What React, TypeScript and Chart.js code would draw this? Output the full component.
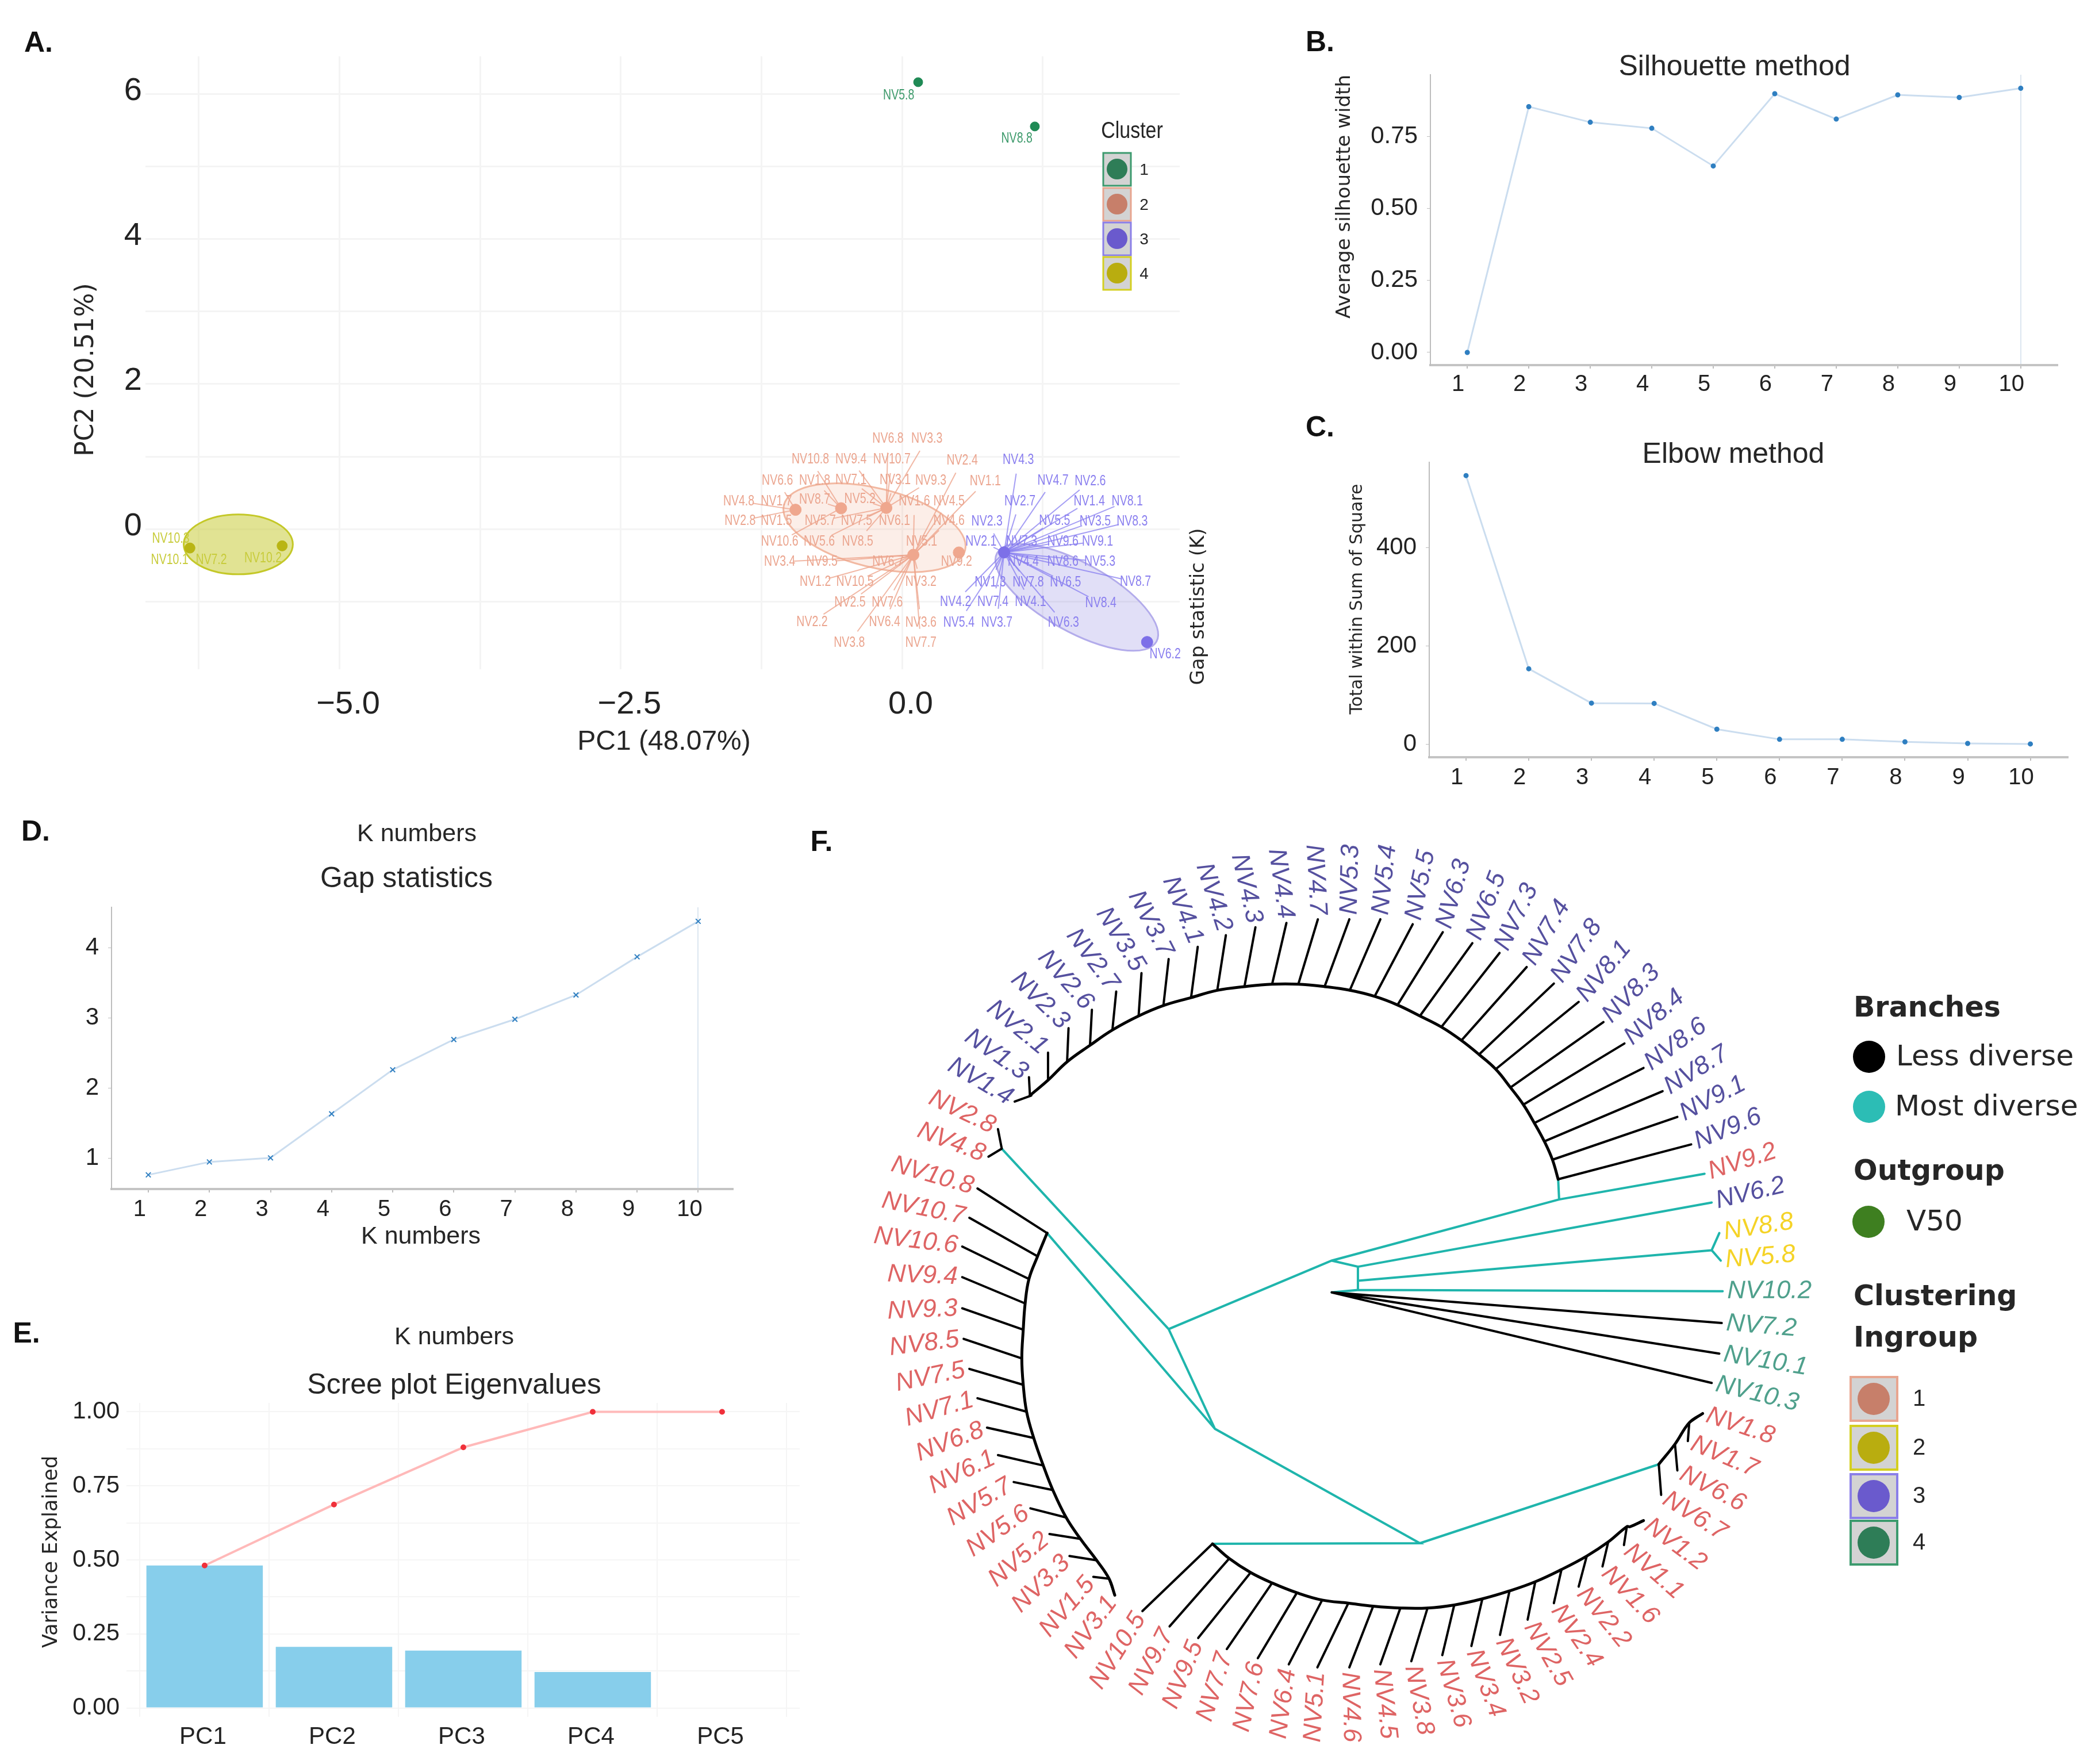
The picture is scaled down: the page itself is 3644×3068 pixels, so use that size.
import React, { useEffect, useRef } from "react";
import { Chart, registerables } from "chart.js";

Chart.register(...registerables);

const SANS = '"Liberation Sans", Arial, sans-serif';
const WIDE = '"DejaVu Sans", sans-serif';

// ---------- B / C / D values ----------
const kNumbers = [1, 2, 3, 4, 5, 6, 7, 8, 9, 10];
const silhouetteWidth = [0, 0.854, 0.8, 0.779, 0.648, 0.899, 0.811, 0.895, 0.886, 0.918];
const elbowWss = [546.5, 153.8, 84, 83.4, 31, 10.4, 10.4, 5.2, 2, 1];
const gapStat = [0.766, 0.95, 1.008, 1.636, 2.264, 2.695, 2.984, 3.33, 3.874, 4.38];

// ---------- E values ----------
const pcNames = ["PC1", "PC2", "PC3", "PC4", "PC5"];
const varianceExplained = [0.481, 0.2065, 0.1937, 0.1215, 0];
const cumulativeVariance = [0.481, 0.687, 0.88, 1, 1];

// ---------- A values (PC1, PC2) ----------
const clusterGreen = [[0.143, 6.16], [1.18, 5.55]];
const clusterPink = [[-0.947, 0.267], [-0.542, 0.288], [-0.14, 0.293], [0.1, -0.354], [0.505, -0.322]];
const clusterBlue = [[0.907, -0.32], [2.178, -1.556]];
const clusterYellow = [[-6.33, -0.26], [-5.51, -0.23]];
// centre x, centre y, semi axes in PC1 units, tilt in degrees
const ellipseYellow = [-5.9, -0.21, 0.485, 0.266, 0];
const ellipsePink = [-0.245, 0.02, 0.83, 0.35, 14];
const ellipseBlue = [1.553, -0.94, 0.81, 0.305, 29];

const labelsGreen: any[] = [["NV5.8", -0.03, 5.98], ["NV8.8", 1.02, 5.38]];
const labelsYellow: any[] = [["NV10.3", -6.5, -0.13], ["NV10.1", -6.51, -0.43], ["NV7.2", -6.14, -0.43], ["NV10.2", -5.68, -0.4]];
// name, position on the 900x500 crop of the plot, index of the cluster point it leads to
const labelsPink: any[] = [
  ["NV6.8", 600, 190, 2], ["NV3.3", 718, 190, 2], ["NV10.8", 365, 297, 1], ["NV9.4", 488, 297, 2], ["NV10.7", 612, 297, 2],
  ["NV2.4", 825, 303, 3], ["NV6.6", 265, 407, 0], ["NV1.8", 378, 407, 1], ["NV7.1", 488, 405, 2], ["NV3.1", 622, 405, 2],
  ["NV9.3", 730, 407, 2], ["NV1.1", 895, 412, 3], ["NV4.8", 148, 515, 0], ["NV1.7", 262, 515, 0], ["NV8.7", 378, 508, 1],
  ["NV5.2", 515, 505, 2], ["NV1.6", 680, 515, 3], ["NV4.5", 785, 515, 3], ["NV2.8", 152, 618, 0], ["NV1.5", 262, 618, 0],
  ["NV5.7", 395, 618, 2], ["NV7.5", 505, 618, 2], ["NV6.1", 620, 618, 2], ["NV4.6", 785, 618, 3], ["NV10.6", 272, 725, 1],
  ["NV5.6", 392, 725, 2], ["NV8.5", 508, 725, 2], ["NV5.1", 702, 725, 3], ["NV3.4", 272, 832, 3], ["NV9.5", 400, 832, 3],
  ["NV6.7", 600, 830, 3], ["NV9.2", 808, 830, 4], ["NV1.2", 380, 937, 3], ["NV10.5", 500, 937, 3], ["NV3.2", 700, 937, 3],
  ["NV2.5", 485, 1043, 3], ["NV7.6", 598, 1043, 3], ["NV2.2", 370, 1145, 3], ["NV6.4", 590, 1145, 3], ["NV3.6", 700, 1150, 3],
  ["NV3.8", 483, 1253, 3], ["NV7.7", 700, 1253, 3],
];
const labelsBlue: any[] = [
  ["NV4.3", 995, 300, 0], ["NV4.7", 1100, 408, 0], ["NV2.6", 1213, 410, 0], ["NV2.7", 1000, 515, 0], ["NV1.4", 1210, 515, 0],
  ["NV8.1", 1325, 515, 0], ["NV2.3", 900, 620, 0], ["NV5.5", 1105, 618, 0], ["NV3.5", 1228, 620, 0], ["NV8.3", 1340, 620, 0],
  ["NV2.1", 882, 725, 0], ["NV7.3", 1005, 725, 0], ["NV9.6", 1130, 725, 0], ["NV9.1", 1235, 725, 0], ["NV4.4", 1010, 830, 0],
  ["NV8.6", 1130, 830, 0], ["NV5.3", 1242, 830, 0], ["NV1.3", 910, 938, 0], ["NV7.8", 1025, 938, 0], ["NV6.5", 1138, 938, 0],
  ["NV8.7", 1350, 937, 0], ["NV4.2", 805, 1040, 0], ["NV7.4", 918, 1040, 0], ["NV4.1", 1032, 1040, 0], ["NV8.4", 1245, 1047, 0],
  ["NV5.4", 815, 1148, 0], ["NV3.7", 930, 1148, 0], ["NV6.3", 1132, 1150, 0], ["NV6.2", 1440, 1315, 1],
];

// ---------- F values: leaf name, cluster colour key, tip x, tip y, base x, base y (tree units) ----------
const leavesTop: any[] = [
  ["NV1.4", "b", 440, 485, 475, 475], ["NV1.3", "b", 470, 445, 472, 475], ["NV2.1", "b", 510, 405, 510, 450],
  ["NV2.3", "b", 553, 365, 550, 420], ["NV2.6", "b", 602, 335, 598, 393], ["NV2.7", "b", 653, 305, 645, 368],
  ["NV3.5", "b", 706, 275, 700, 345], ["NV3.7", "b", 763, 252, 752, 328], ["NV4.1", "b", 824, 232, 810, 315],
  ["NV4.2", "b", 883, 213, 865, 303], ["NV4.3", "b", 945, 200, 922, 297], ["NV4.4", "b", 1010, 193, 980, 293],
  ["NV4.7", "b", 1076, 187, 1035, 293], ["NV5.3", "b", 1142, 187, 1090, 297], ["NV5.4", "b", 1207, 187, 1143, 303],
  ["NV5.5", "b", 1275, 195, 1195, 313], ["NV6.3", "b", 1338, 208, 1243, 327], ["NV6.5", "b", 1400, 226, 1290, 345],
  ["NV7.3", "b", 1457, 242, 1335, 363], ["NV7.4", "b", 1514, 265, 1377, 385], ["NV7.8", "b", 1571, 292, 1414, 408],
  ["NV8.1", "b", 1623, 322, 1449, 432], ["NV8.3", "b", 1675, 355, 1480, 462], ["NV8.4", "b", 1719, 390, 1507, 490],
  ["NV8.6", "b", 1759, 430, 1530, 520], ["NV8.7", "b", 1799, 468, 1551, 550], ["NV9.1", "b", 1830, 510, 1568, 580],
  ["NV9.6", "b", 1859, 555, 1580, 612],
];
const leavesLeft: any[] = [
  ["NV10.8", "r", 362, 627, 508, 700], ["NV10.7", "r", 345, 675, 488, 738], ["NV10.6", "r", 330, 722, 470, 775],
  ["NV9.4", "r", 330, 772, 462, 815], ["NV9.3", "r", 330, 823, 458, 858], ["NV8.5", "r", 333, 873, 455, 905],
  ["NV7.5", "r", 345, 922, 458, 948], ["NV7.1", "r", 362, 970, 465, 992], ["NV6.8", "r", 382, 1018, 480, 1035],
  ["NV6.1", "r", 405, 1063, 500, 1080], ["NV5.7", "r", 438, 1107, 520, 1120], ["NV5.6", "r", 473, 1150, 548, 1165],
  ["NV5.2", "r", 513, 1192, 578, 1200], ["NV3.3", "r", 555, 1228, 612, 1235], ["NV1.5", "r", 605, 1262, 638, 1265],
  ["NV3.1", "r", 650, 1292, 638, 1265],
];
const leavesBottom: any[] = [
  ["NV10.5", "r", 708, 1318, 855, 1208], ["NV9.7", "r", 765, 1343, 890, 1232], ["NV9.5", "r", 825, 1362, 935, 1255],
  ["NV7.7", "r", 885, 1380, 980, 1272], ["NV7.6", "r", 950, 1395, 1032, 1288], ["NV6.4", "r", 1015, 1405, 1085, 1300],
  ["NV5.1", "r", 1075, 1410, 1140, 1305], ["NV4.6", "r", 1142, 1410, 1192, 1310], ["NV4.5", "r", 1207, 1405, 1249, 1313],
  ["NV3.8", "r", 1272, 1400, 1306, 1313], ["NV3.6", "r", 1337, 1390, 1362, 1308], ["NV3.4", "r", 1398, 1375, 1421, 1298],
  ["NV3.2", "r", 1458, 1357, 1478, 1285], ["NV2.5", "r", 1516, 1332, 1532, 1270], ["NV2.4", "r", 1571, 1305, 1587, 1250],
  ["NV2.2", "r", 1623, 1278, 1640, 1228], ["NV1.6", "r", 1673, 1245, 1685, 1205], ["NV1.1", "r", 1718, 1210, 1724, 1180],
  ["NV1.2", "r", 1759, 1170, 1731, 1180],
];
const leavesRight: any[] = [
  ["NV1.8", "r", 1883, 995, 1855, 1010], ["NV1.7", "r", 1852, 1040, 1855, 1010],
  ["NV6.6", "r", 1830, 1088, 1825, 1045], ["NV6.7", "r", 1796, 1128, 1791, 1078],
];
const leavesCentre: any[] = [
  ["NV7.2", "g", 1923, 847, 1105, 797], ["NV10.1", "g", 1918, 897, 1105, 797], ["NV10.3", "g", 1902, 945, 1105, 797],
];
const leavesFork: any[] = [["NV2.8", "r", 405, 530, 413, 562], ["NV4.8", "r", 385, 575, 413, 562]];
const leavesTeal: any[] = [
  ["NV9.2", "r", 1887, 603, 1582, 645], ["NV6.2", "b", 1902, 650, 1160, 755],
  ["NV8.8", "y", 1918, 700, 1902, 728], ["NV5.8", "y", 1921, 745, 1902, 728], ["NV10.2", "g", 1925, 795, 1160, 793],
];
const tealBranches = [
  [[1582, 645], [1105, 745], [763, 857], [860, 1020], [1290, 1207], [855, 1208]],
  [[1582, 645], [1580, 612]],
  [[413, 562], [763, 857]],
  [[508, 700], [860, 1020]],
  [[1290, 1207], [1791, 1078]],
  [[1105, 745], [1160, 755], [1160, 793], [1105, 797]],
  [[1160, 778], [1902, 728]],
];

// ---------- helpers ----------
type Box = { left: number; top: number; width: number; height: number; l: number; t: number; r: number; b: number };

const frame = (box: Box) => ({
  layout: { padding: { top: box.t - box.top, right: box.left + box.width - box.r, left: 0, bottom: 0 } },
});
const fitY = (box: Box) => (s: any) => { s.width = box.l - box.left; };
const fitX = (box: Box) => (s: any) => { s.height = box.top + box.height - box.b; };
const setTicks = (vals: number[]) => (s: any) => { s.ticks = vals.map((value) => ({ value })); };
const pairs = (xs: number[], ys: number[]) => xs.map((x, i) => ({ x, y: ys[i] }));
const xy = (rows: number[][]) => rows.map(([x, y]) => ({ x, y }));

const textPlugin = (id: string, box: Box, items: any[]) => ({
  id,
  afterDraw(chart: any) {
    const c = chart.ctx;
    for (const it of items) {
      c.save();
      c.translate(it.x - box.left, it.y - box.top);
      if (it.rot) c.rotate((it.rot * Math.PI) / 180);
      if (it.sx) c.scale(it.sx, 1);
      c.font = it.font;
      c.fillStyle = it.color || "#262626";
      c.textAlign = it.align || "center";
      c.textBaseline = "middle";
      c.fillText(it.t, 0, 0);
      c.restore();
    }
  },
});

const letter = (t: string, x: number, y: number) => ({ t, x, y, font: `bold 50px ${SANS}`, color: "#111" });

// ---------- panel A ----------
const cropX = (zx: number) => (zx - 642.8) / 340.9;
const cropY = (zy: number) => (660.9 - zy) / 378.6;

function panelA() {
  const box: Box = { left: 0, top: 0, width: 2200, height: 1400, l: 253, t: 98, r: 2052, b: 1164 };
  const ellipses: any[] = [
    [ellipseYellow, "rgba(196,200,40,0.5)", "#C4C828"],
    [ellipsePink, "rgba(240,170,140,0.2)", "#F2B9A2"],
    [ellipseBlue, "rgba(120,110,220,0.22)", "#B3ACEB"],
  ];
  const overlay = {
    id: "clusterMarks",
    beforeDatasetsDraw(chart: any) {
      const c = chart.ctx, X = chart.scales.x, Y = chart.scales.y;
      const ux = X.getPixelForValue(1) - X.getPixelForValue(0);
      for (const [e, fill, stroke] of ellipses) {
        c.beginPath();
        c.ellipse(X.getPixelForValue(e[0]), Y.getPixelForValue(e[1]), e[2] * ux, e[3] * ux, (e[4] * Math.PI) / 180, 0, Math.PI * 2);
        c.fillStyle = fill;
        c.fill();
        c.strokeStyle = stroke;
        c.lineWidth = 3;
        c.stroke();
      }
      const groups: any[] = [
        [labelsPink, clusterPink, "rgba(236,160,135,0.75)"],
        [labelsBlue, clusterBlue, "rgba(135,125,240,0.75)"],
      ];
      for (const [labels, pts, col] of groups) {
        c.strokeStyle = col;
        c.lineWidth = 2;
        for (const [, zx, zy, k] of labels) {
          const ax = X.getPixelForValue(pts[k][0]), ay = Y.getPixelForValue(pts[k][1]);
          const lx = X.getPixelForValue(cropX(zx)), ly = Y.getPixelForValue(cropY(zy));
          const d = Math.hypot(lx - ax, ly - ay);
          if (d < 40 || (pts === clusterBlue && k === 1)) continue;
          const f = (d - 24) / d;
          c.beginPath();
          c.moveTo(ax, ay);
          c.lineTo(ax + (lx - ax) * f, ay + (ly - ay) * f);
          c.stroke();
        }
      }
    },
    afterDatasetsDraw(chart: any) {
      const c = chart.ctx, X = chart.scales.x, Y = chart.scales.y;
      c.font = `25px ${SANS}`;
      c.textAlign = "center";
      c.textBaseline = "middle";
      const put = (n: string, x: number, y: number) => {
        c.save();
        c.translate(x, y);
        c.scale(0.78, 1);
        c.fillText(n, 0, 0);
        c.restore();
      };
      c.fillStyle = "#EBA58F";
      for (const [n, zx, zy] of labelsPink) put(n, X.getPixelForValue(cropX(zx)), Y.getPixelForValue(cropY(zy)));
      c.fillStyle = "#8A7FEF";
      for (const [n, zx, zy] of labelsBlue) put(n, X.getPixelForValue(cropX(zx)), Y.getPixelForValue(cropY(zy)));
      c.fillStyle = "#3D9A6B";
      for (const [n, x, y] of labelsGreen) put(n, X.getPixelForValue(x), Y.getPixelForValue(y));
      c.fillStyle = "#C8CC3C";
      for (const [n, x, y] of labelsYellow) put(n, X.getPixelForValue(x), Y.getPixelForValue(y));
      // legend
      const rows: any[] = [["1", "#2E7D57", "#3C9A6E", 266], ["2", "#C77F6A", "#E8A58F", 327], ["3", "#6A5ACD", "#8A7FE8", 387], ["4", "#B9AD0F", "#D4CF20", 447]];
      for (const [n, dot, edge, y] of rows) {
        c.fillStyle = "#D3D3D3";
        c.fillRect(1919, y, 48, 57);
        c.strokeStyle = edge;
        c.lineWidth = 3;
        c.strokeRect(1919, y, 48, 57);
        c.fillStyle = dot;
        c.beginPath();
        c.arc(1943, y + 28, 18, 0, Math.PI * 2);
        c.fill();
        c.fillStyle = "#262626";
        c.font = `28px ${SANS}`;
        c.fillText(n, 1990, y + 30);
      }
    },
  };
  const dot = (data: number[][], color: string, r: number) => ({ data: xy(data), backgroundColor: color, borderColor: color, pointRadius: r });
  return {
    box,
    config: {
      type: "scatter",
      data: {
        datasets: [dot(clusterYellow, "#B9B514", 9), dot(clusterPink, "#EFA78E", 10), dot(clusterBlue, "#7D70E8", 10), dot(clusterGreen, "#1F8A55", 8)],
      },
      options: {
        ...frame(box),
        scales: {
          x: {
            type: "linear", min: -6.725, max: 2.468, afterBuildTicks: setTicks([-6.25, -5, -3.75, -2.5, -1.25, 0, 1.25]), afterFit: fitX(box),
            grid: { color: "#F4F4F4", lineWidth: 3, drawTicks: false }, border: { display: false },
            ticks: {
              autoSkip: false, maxRotation: 0, padding: 28, labelOffset: 15, color: "#222", font: { size: 56, family: SANS },
              callback: (v: number) => (v === -5 ? "\u22125.0" : v === -2.5 ? "\u22122.5" : v === 0 ? "0.0" : ""),
            },
          },
          y: {
            type: "linear", min: -1.931, max: 6.516, afterBuildTicks: setTicks([-1, 0, 1, 2, 3, 4, 5, 6]), afterFit: fitY(box),
            grid: { color: "#F4F4F4", lineWidth: 3, drawTicks: false }, border: { display: false },
            ticks: { autoSkip: false, padding: 6, labelOffset: -5, color: "#222", font: { size: 56, family: SANS }, callback: (v: number) => (v >= 0 && v % 2 === 0 ? String(v) : "") },
          },
        },
      },
    },
    plugins: [
      overlay,
      textPlugin("textA", box, [
        letter("A.", 67, 76),
        { t: "PC1 (48.07%)", x: 1155, y: 1291, font: `48px ${SANS}` },
        { t: "PC2 (20.51%)", x: 151, y: 643, rot: -90, font: `44px ${WIDE}` },
        { t: "Gap statistic (K)", x: 2085, y: 1055, rot: -90, font: `34px ${WIDE}` },
        { t: "Cluster", x: 1969, y: 229, font: `40px ${SANS}`, sx: 0.85 },
      ]),
    ],
  };
}

// ---------- panels B, C, D ----------
function kPanel(box: Box, values: number[], yMin: number, yMax: number, xMin: number, xMax: number, yTicks: number[], fmt: (v: number) => string, edgeLine: boolean, marker: any, texts: any[], xPad: number, xOff: number) {
  return {
    box,
    config: {
      type: "line",
      data: {
        datasets: [{
          data: pairs(kNumbers, values), borderColor: "#CBDDEF", borderWidth: 3, tension: 0,
          pointBackgroundColor: "#2F7FC1", pointBorderColor: "#2F7FC1", ...marker,
        }],
      },
      options: {
        ...frame(box),
        scales: {
          x: {
            type: "linear", min: xMin, max: xMax, afterBuildTicks: setTicks(kNumbers), afterFit: fitX(box),
            grid: { color: (c: any) => (edgeLine && c.tick && c.tick.value === 10 ? "#DCE6F0" : "rgba(0,0,0,0)"), lineWidth: 2, tickColor: "#BDBDBD", tickLength: 6, z: -1 },
            border: { display: true, color: "#C4C4C4", width: 4 },
            ticks: { autoSkip: false, maxRotation: 0, padding: xPad, labelOffset: xOff, color: "#222", font: { size: 40, family: SANS }, callback: (v: number) => String(v) },
          },
          y: {
            type: "linear", min: yMin, max: yMax, afterBuildTicks: setTicks(yTicks), afterFit: fitY(box),
            grid: { drawOnChartArea: false, tickColor: "#BDBDBD", tickLength: 6 },
            border: { display: true, color: "#BDBDBD", width: 2 },
            ticks: { autoSkip: false, padding: 16, color: "#222", font: { size: 42, family: SANS }, callback: fmt },
          },
        },
      },
    },
    plugins: [textPlugin("text" + texts[0].t[0], box, texts)],
  };
}

function panelE() {
  const box: Box = { left: 0, top: 2270, width: 1440, height: 798, l: 220, t: 2440, r: 1391, b: 2986 };
  const faint = { color: "#F5F5F5", lineWidth: 2, drawTicks: false };
  return {
    box,
    config: {
      type: "bar",
      data: {
        datasets: [
          {
            type: "line", data: pairs([1, 2, 3, 4, 5], cumulativeVariance), borderColor: "#FFB9B9", borderWidth: 4, tension: 0,
            pointRadius: 3, pointBackgroundColor: "#F0303A", pointBorderColor: "#F0303A", order: 0,
          },
          { type: "bar", data: pairs([1, 2, 3, 4, 5], varianceExplained), backgroundColor: "#87CEEB", barPercentage: 0.9, categoryPercentage: 1, order: 1 },
        ],
      },
      options: {
        ...frame(box),
        scales: {
          x: {
            type: "linear", min: 0.396, max: 5.6, offset: false, afterBuildTicks: setTicks([1, 2, 3, 4, 5]), afterFit: fitX(box), grid: faint, border: { display: false },
            ticks: { autoSkip: false, maxRotation: 0, padding: 10, labelOffset: -3, color: "#222", font: { size: 42, family: SANS }, callback: (v: number) => pcNames[v - 1] },
          },
          y: {
            type: "linear", min: -0.03, max: 1.03, afterBuildTicks: setTicks([0, 0.125, 0.25, 0.375, 0.5, 0.625, 0.75, 0.875, 1]), afterFit: fitY(box), grid: faint, border: { display: false },
            ticks: { autoSkip: false, padding: 12, color: "#222", font: { size: 42, family: SANS }, callback: (v: number) => (v * 4 % 1 === 0 ? v.toFixed(2) : "") },
          },
        },
      },
    },
    plugins: [textPlugin("textE", box, [
      letter("E.", 46, 2321),
      { t: "K numbers", x: 790, y: 2326, font: `43px ${SANS}` },
      { t: "Scree plot Eigenvalues", x: 790, y: 2410, font: `50px ${SANS}` },
      { t: "Variance Explained", x: 90, y: 2699, rot: -90, font: `35px ${WIDE}` },
    ])],
  };
}

// ---------- panel F ----------
const leafColors: any = { b: "#55509F", r: "#DE6464", y: "#F5D327", g: "#4FA08C" };

function breakJoin(segs: number[][][]) {
  const out: any[] = [];
  for (const s of segs) {
    for (const [x, y] of s) out.push({ x, y });
    out.push({ x: NaN, y: NaN });
  }
  return out;
}

function panelF() {
  const box: Box = { left: 1400, top: 1400, width: 2244, height: 1668, l: 1400, t: 1400, r: 3644, b: 3068 };
  const leaves = (rows: any[]) => rows.map((r) => [[r[2], r[3]], [r[4], r[5]]]);
  const allLabels = [...leavesTop, ...leavesLeft, ...leavesBottom, ...leavesRight, ...leavesCentre, ...leavesFork, ...leavesTeal];
  const backbones = [
    leavesTop.slice(1).map((r) => [r[4], r[5]]),
    leavesLeft.slice(0, 15).map((r) => [r[4], r[5]]).concat([[650, 1292]]),
    leavesBottom.map((r) => [r[4], r[5]]).concat([[1759, 1170]]),
    [[1883, 995], [1855, 1010], [1825, 1045], [1791, 1078]],
  ];
  const black = breakJoin([...leaves(leavesTop), ...leaves(leavesLeft), ...leaves(leavesBottom), ...leaves(leavesRight), ...leaves(leavesCentre), ...leaves(leavesFork)]);
  const teal = breakJoin([...tealBranches, ...leaves(leavesTeal)]);
  const labelPlugin = {
    id: "leafLabels",
    afterDatasetsDraw(chart: any) {
      const c = chart.ctx, X = chart.scales.x, Y = chart.scales.y;
      const cx = X.getPixelForValue(1121), cy = Y.getPixelForValue(796);
      for (const r of allLabels) {
        const px = X.getPixelForValue(r[2]), py = Y.getPixelForValue(r[3]);
        const a = Math.atan2(py - cy, px - cx);
        const right = Math.cos(a) >= 0;
        c.save();
        c.translate(px, py);
        c.rotate(right ? a : a + Math.PI);
        c.font = `italic 44px ${SANS}`;
        c.fillStyle = leafColors[r[1]];
        c.textAlign = right ? "left" : "right";
        c.textBaseline = "middle";
        c.fillText(r[0], right ? 8 : -8, 0);
        c.restore();
      }
      // legend
      const circ = (x: number, y: number, col: string) => {
        c.fillStyle = col;
        c.beginPath();
        c.arc(x - box.left, y - box.top, 28, 0, Math.PI * 2);
        c.fill();
      };
      circ(3251, 1838, "#000");
      circ(3251, 1925, "#2CBDB5");
      circ(3250, 2125, "#3E7F20");
      const rows: any[] = [[2395, "#C77F6A", "#E8A58F"], [2480, "#B9AD0F", "#D4CF20"], [2564, "#6A5ACD", "#8A7FE8"], [2645, "#2E7D57", "#3C9A6E"]];
      for (const [y, dot, edge] of rows) {
        c.fillStyle = "#D3D3D3";
        c.fillRect(3219 - box.left, y - box.top, 81, 76);
        c.strokeStyle = edge;
        c.lineWidth = 4;
        c.strokeRect(3219 - box.left, y - box.top, 81, 76);
        circ(3259, y + 38, dot);
      }
    },
  };
  const body = `50px ${WIDE}`;
  const head = `bold 49px ${WIDE}`;
  const li = (t: string, x: number, y: number, font: string) => ({ t, x, y, font, align: "left" });
  return {
    box,
    config: {
      type: "scatter",
      data: {
        datasets: [
          { data: black, showLine: true, spanGaps: false, borderColor: "#000", borderWidth: 4, pointRadius: 0, borderCapStyle: "round" },
          { data: breakJoin(backbones), showLine: true, spanGaps: false, tension: 0.4, borderColor: "#000", borderWidth: 5, pointRadius: 0, borderCapStyle: "round" },
          { data: teal, showLine: true, spanGaps: false, borderColor: "#1FB5AC", borderWidth: 4, pointRadius: 0, borderCapStyle: "round" },
        ],
      },
      options: {
        layout: { padding: 0 },
        scales: {
          x: { type: "linear", display: false, min: 0, max: 2706 },
          y: { type: "linear", display: false, reverse: true, min: 0, max: 1568 },
        },
      },
    },
    plugins: [
      labelPlugin,
      textPlugin("textF", box, [
        letter("F.", 1429, 1466),
        li("Branches", 3224, 1755, head),
        li("Less diverse", 3298, 1840, body),
        li("Most diverse", 3296, 1927, body),
        li("Outgroup", 3224, 2039, head),
        li("V50", 3316, 2127, body),
        li("Clustering", 3224, 2257, head),
        li("Ingroup", 3224, 2329, head),
        li("1", 3327, 2434, `40px ${SANS}`),
        li("2", 3327, 2519, `40px ${SANS}`),
        li("3", 3327, 2603, `40px ${SANS}`),
        li("4", 3327, 2684, `40px ${SANS}`),
      ]),
    ],
  };
}

function buildPanels() {
  const title = (t: string, x: number, y: number, size = 50) => ({ t, x, y, font: `${size}px ${SANS}` });
  const B = kPanel(
    { left: 2260, top: 30, width: 1384, height: 670, l: 2488, t: 130, r: 3579, b: 635 },
    silhouetteWidth, -0.044, 0.965, 0.4, 10.6, [0, 0.25, 0.5, 0.75], (v: number) => v.toFixed(2), true, { pointRadius: 3 },
    [letter("B.", 2296, 75), title("Silhouette method", 3017, 117), { t: "Average silhouette width", x: 2339, y: 342, rot: -90, font: `34px ${WIDE}` }],
    4, -16,
  );
  const C = kPanel(
    { left: 2260, top: 700, width: 1384, height: 700, l: 2486, t: 804, r: 3597, b: 1317 },
    elbowWss, -26, 573.6, 0.413, 10.6, [0, 200, 400], (v: number) => String(v), false, { pointRadius: 3 },
    [letter("C.", 2296, 745), title("Elbow method", 3015, 791), { t: "Total within Sum of Square", x: 2361, y: 1042, rot: -90, font: `30px ${WIDE}` }],
    6, -16,
  );
  const D = kPanel(
    { left: 0, top: 1400, width: 1400, height: 800, l: 194, t: 1578, r: 1275, b: 2068 },
    gapStat, 0.564, 4.58, 0.398, 10.57, [1, 2, 3, 4], (v: number) => String(v), true, { pointRadius: 6, pointStyle: "crossRot", pointBorderWidth: 2 },
    [letter("D.", 62, 1448), title("K numbers", 725, 1451, 43), title("Gap statistics", 707, 1529), title("K numbers", 732, 2151, 43)],
    6, -15,
  );
  return [panelA(), B, C, D, panelE(), panelF()];
}

export default function App() {
  const wrap = useRef<HTMLDivElement>(null);
  useEffect(() => {
    const host = wrap.current!;
    const charts: any[] = [];
    for (const p of buildPanels() as any[]) {
      const canvas = document.createElement("canvas");
      canvas.width = p.box.width;
      canvas.height = p.box.height;
      canvas.style.position = "absolute";
      canvas.style.left = p.box.left + "px";
      canvas.style.top = p.box.top + "px";
      host.appendChild(canvas);
      const cfg = p.config;
      cfg.plugins = p.plugins;
      cfg.options = {
        responsive: false, animation: false, devicePixelRatio: 1, ...cfg.options,
        plugins: { legend: { display: false }, title: { display: false }, tooltip: { enabled: false } },
      };
      charts.push(new Chart(canvas, cfg));
    }
    return () => {
      charts.forEach((c) => c.destroy());
      host.innerHTML = "";
    };
  }, []);
  return <div ref={wrap} style={{ position: "absolute", left: 0, top: 0, width: 3644, height: 3068, background: "#fff", overflow: "hidden" }} />;
}
